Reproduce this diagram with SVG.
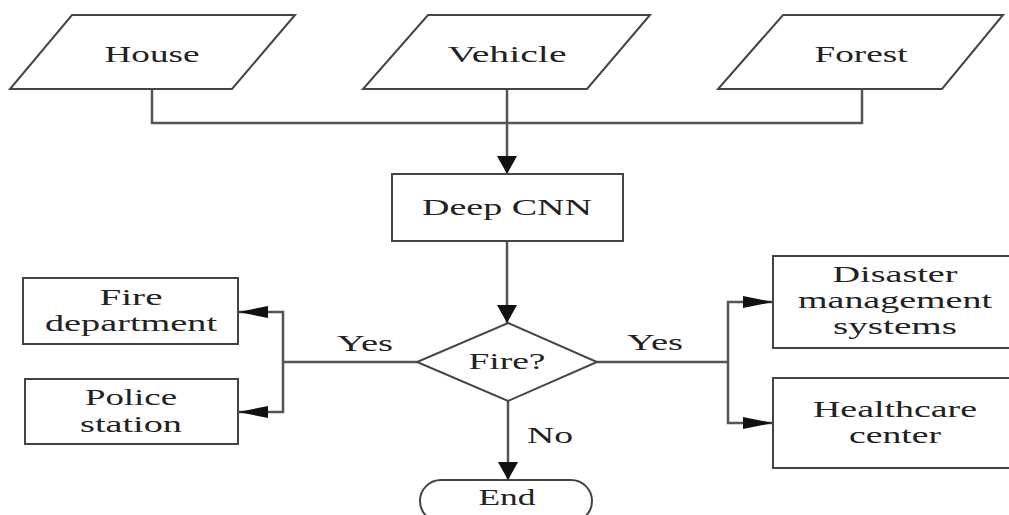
<svg xmlns="http://www.w3.org/2000/svg" width="1009" height="515" viewBox="0 0 1009 515">
<style>
.shape{fill:#fff;stroke:#444;stroke-width:2}
.lbl{font-family:"Liberation Serif","Times New Roman",serif;font-size:24px;fill:#222;text-anchor:middle}
.conn{fill:none;stroke:#555;stroke-width:2.5}
</style>
<defs>
<marker id="arrowH" markerUnits="userSpaceOnUse" markerWidth="30" markerHeight="12" refX="30" refY="6" orient="auto">
<path d="M0,0 L30,6 L0,12 z" fill="#111"/>
</marker>
<marker id="arrowV" markerUnits="userSpaceOnUse" markerWidth="18" markerHeight="20" refX="18" refY="10" orient="auto">
<path d="M0,0 L18,10 L0,20 z" fill="#111"/>
</marker>
</defs>
<rect width="1009" height="515" fill="#fff"/>
<g id="connectors">
<path class="conn" d="M152,89 V123 H862 V89"/>
<path class="conn" d="M507,89 V174" marker-end="url(#arrowV)"/>
<path class="conn" d="M507,241 V323" marker-end="url(#arrowV)"/>
<path class="conn" d="M417,362 H283"/>
<path class="conn" d="M283,362 V312 H238" marker-end="url(#arrowH)"/>
<path class="conn" d="M283,362 V412 H238" marker-end="url(#arrowH)"/>
<path class="conn" d="M597,362 H728"/>
<path class="conn" d="M728,362 V302 H773" marker-end="url(#arrowH)"/>
<path class="conn" d="M728,362 V423 H773" marker-end="url(#arrowH)"/>
<path class="conn" d="M508,401 V480" marker-end="url(#arrowV)"/>
<text class="lbl" x="365" y="351" textLength="56" lengthAdjust="spacingAndGlyphs">Yes</text>
<text class="lbl" x="655" y="350" textLength="56" lengthAdjust="spacingAndGlyphs">Yes</text>
<text class="lbl" x="550" y="443" textLength="46" lengthAdjust="spacingAndGlyphs">No</text>
</g>
<g id="house">
<polygon class="shape" points="72,15 295,15 232,89 10,89"/>
<text class="lbl" x="152" y="62" textLength="95" lengthAdjust="spacingAndGlyphs">House</text>
</g>
<g id="vehicle">
<polygon class="shape" points="428,15 650,15 587,89 363,89"/>
<text class="lbl" x="507" y="62" textLength="119" lengthAdjust="spacingAndGlyphs">Vehicle</text>
</g>
<g id="forest">
<polygon class="shape" points="783,15 1003,15 942,89 718,89"/>
<text class="lbl" x="861" y="62" textLength="93" lengthAdjust="spacingAndGlyphs">Forest</text>
</g>
<g id="deepcnn">
<rect class="shape" x="392" y="174" width="231" height="67"/>
<text class="lbl" x="507" y="215" textLength="170" lengthAdjust="spacingAndGlyphs">Deep CNN</text>
</g>
<g id="fire">
<polygon class="shape" points="508,323 597,362 508,401 417,362"/>
<text class="lbl" x="507" y="369" textLength="77" lengthAdjust="spacingAndGlyphs">Fire?</text>
</g>
<g id="firedept">
<rect class="shape" x="23" y="278" width="215" height="66"/>
<text class="lbl" x="131" y="305" textLength="63" lengthAdjust="spacingAndGlyphs">Fire</text>
<text class="lbl" x="131" y="331" textLength="172" lengthAdjust="spacingAndGlyphs">department</text>
</g>
<g id="police">
<rect class="shape" x="25" y="379" width="213" height="65"/>
<text class="lbl" x="131" y="405" textLength="92" lengthAdjust="spacingAndGlyphs">Police</text>
<text class="lbl" x="131" y="432" textLength="102" lengthAdjust="spacingAndGlyphs">station</text>
</g>
<g id="disaster">
<rect class="shape" x="773" y="256" width="280" height="92"/>
<text class="lbl" x="895" y="282" textLength="125" lengthAdjust="spacingAndGlyphs">Disaster</text>
<text class="lbl" x="895" y="308" textLength="194" lengthAdjust="spacingAndGlyphs">management</text>
<text class="lbl" x="895" y="334" textLength="124" lengthAdjust="spacingAndGlyphs">systems</text>
</g>
<g id="healthcare">
<rect class="shape" x="773" y="378" width="280" height="90"/>
<text class="lbl" x="895" y="417" textLength="164" lengthAdjust="spacingAndGlyphs">Healthcare</text>
<text class="lbl" x="895" y="443" textLength="92" lengthAdjust="spacingAndGlyphs">center</text>
</g>
<g id="end">
<rect class="shape" x="420" y="480" width="172" height="42" rx="21" ry="21"/>
<text class="lbl" x="507" y="505" textLength="57" lengthAdjust="spacingAndGlyphs">End</text>
</g>
</svg>
